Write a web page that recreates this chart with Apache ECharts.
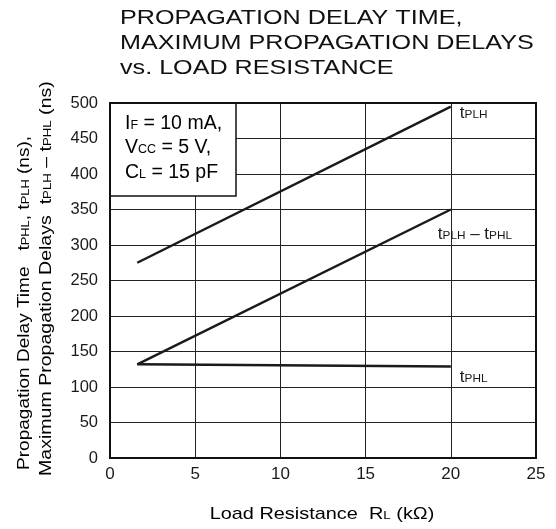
<!DOCTYPE html>
<html><head><meta charset="utf-8">
<script src="https://cdn.jsdelivr.net/npm/echarts@6/dist/echarts.min.js"></script>
<style>html,body{margin:0;padding:0;background:#fff}#c{width:556px;height:529px}</style>
</head><body><div id="c"></div>
<script>
// Data
const xTicks = [0, 5, 10, 15, 20, 25];
const yTicks = [0, 50, 100, 150, 200, 250, 300, 350, 400, 450, 500];
const tPLH = [[1.6, 275], [20, 495]];
const tPLHminusPHL = [[1.6, 132], [20, 350]];
const tPHL = [[1.6, 132], [20, 129]];

const FONT = 'Liberation Sans, Arial, sans-serif';
const C = '#1a1a1a';
const chart = echarts.init(document.getElementById('c'), null, {renderer: 'canvas'});
function rich(F, f, L) {
  const p = Math.round(0.62 * (F - f) * 10) / 10;
  return {
    a: {fontSize: F, fontFamily: FONT, color: C, lineHeight: L},
    t: {fontSize: F, fontFamily: FONT, color: C, lineHeight: L},
    s: {fontSize: f, fontFamily: FONT, color: C, verticalAlign: 'middle', lineHeight: L, padding: [p, 0, 0, 0]}
  };
}
function endLbl(text, off) {
  return {show: true, distance: 0, offset: off, formatter: text, rich: rich(17, 11.8, 20), align: 'left', verticalAlign: 'middle'};
}
function lineSeries(data, text, off) {
  return {type: 'line', data: data, symbol: 'none', showSymbol: false,
    lineStyle: {color: C, width: 2.5}, endLabel: endLbl(text, off), z: 5};
}

chart.setOption({
  animation: false,
  backgroundColor: '#fff',
  grid: {left: 110, right: 20, top: 103, bottom: 71},
  xAxis: {
    type: 'value', min: xTicks[0], max: xTicks[xTicks.length-1], interval: 5,
    axisLine: {show: false}, axisTick: {show: false},
    splitLine: {show: true, lineStyle: {color: '#222', width: 1}},
    axisLabel: {fontSize: 17, fontFamily: FONT, color: C, margin: 8}
  },
  yAxis: {
    type: 'value', min: yTicks[0], max: yTicks[yTicks.length-1], interval: 50,
    axisLine: {show: false}, axisTick: {show: false},
    splitLine: {show: true, lineStyle: {color: '#222', width: 1}},
    axisLabel: {fontSize: 16.5, fontFamily: FONT, color: C, margin: 12}
  },
  graphic: [
    {type: 'rect', shape: {x: 110, y: 103, width: 426, height: 355}, style: {fill: 'none', stroke: '#111', lineWidth: 2}, z: 100},
    {type: 'rect', shape: {x: 110, y: 103, width: 126, height: 93}, style: {fill: '#fff', stroke: '#111', lineWidth: 1.5}, z: 90},
    {type: 'text', x: 125, y: 111, z: 95, style: {
      text: '{a|I}{s|F}{a| = 10 mA,}\n{a|V}{s|CC}{a| = 5 V,}\n{a|C}{s|L}{a| = 15 pF}',
      rich: rich(19.5, 12.5, 24.5)
    }},
    {type: 'text', x: 120, y: 6, scaleX: 1.29, style: {
      text: 'PROPAGATION DELAY TIME,\nMAXIMUM PROPAGATION DELAYS\nvs. LOAD RESISTANCE',
      fontSize: 19.5, fontFamily: FONT, fill: '#111', lineHeight: 25
    }},
    {type: 'text', x: 322, y: 514, scaleX: 1.17, style: {
      text: '{a|Load Resistance  R}{s|L}{a| (kΩ)}', align: 'center', verticalAlign: 'middle',
      rich: rich(17, 11.5, 22)
    }},
    {type: 'text', x: 13, y: 470, rotation: Math.PI/2, scaleX: 1.12, style: {
      text: '{a|Propagation Delay Time   t}{s|PHL}{a|, t}{s|PLH}{a| (ns),}',
      rich: rich(17, 11.5, 22)
    }},
    {type: 'text', x: 35, y: 476, rotation: Math.PI/2, scaleX: 1.15, style: {
      text: '{a|Maximum Propagation Delays  t}{s|PLH}{a| – t}{s|PHL}{a| (ns)}',
      rich: rich(17, 11.5, 22)
    }}
  ],
  series: [
    lineSeries(tPLH, '{t|t}{s|PLH}', [9, 7]),
    lineSeries(tPLHminusPHL, '{t|t}{s|PLH}{t| – t}{s|PHL}', [-13, 24.5]),
    lineSeries(tPHL, '{t|t}{s|PHL}', [9, 10.5])
  ]
});
</script></body></html>
